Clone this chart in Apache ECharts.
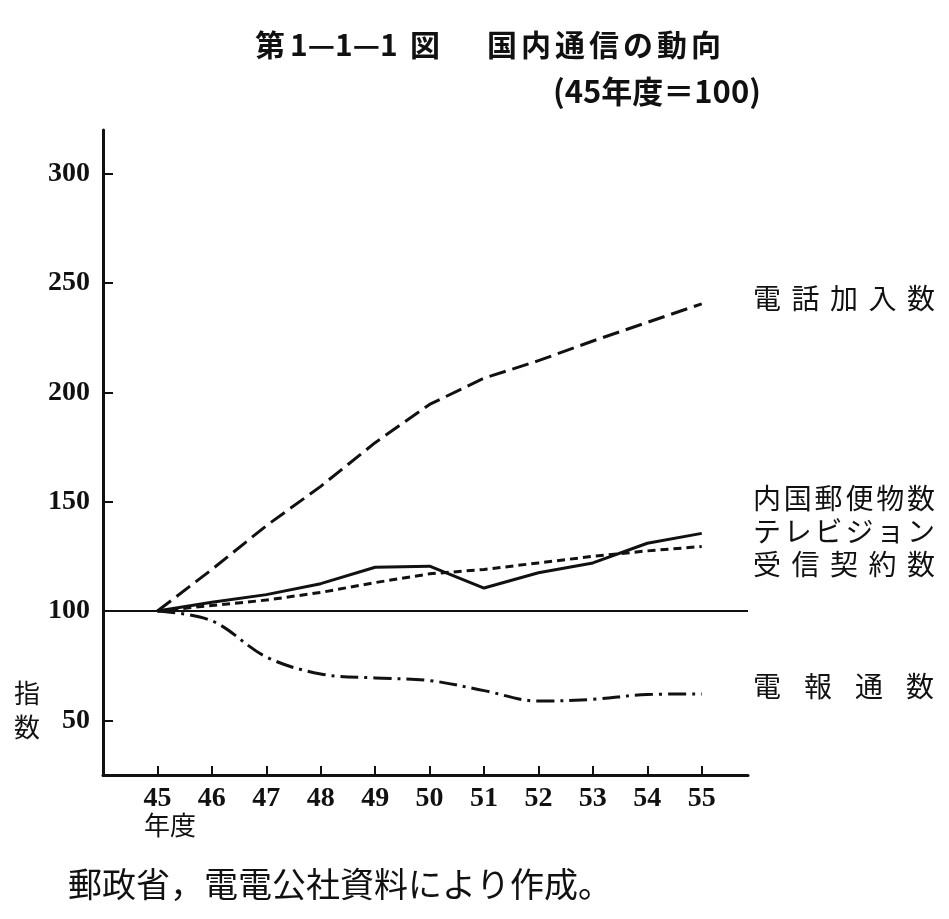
<!DOCTYPE html>
<html>
<head>
<meta charset="utf-8">
<script src="https://cdn.jsdelivr.net/npm/echarts@6/dist/echarts.min.js"></script>
<style>
  html, body { margin: 0; padding: 0; background: #fff; }
  #chart { width: 949px; height: 919px; }
</style>
</head>
<body>
<div id="chart"></div>
<script>
// fiscal years (Showa 45..55)
const years = [45, 46, 47, 48, 49, 50, 51, 52, 53, 54, 55];
const yTicks = [50, 100, 150, 200, 250, 300];

// index values, 45年度 = 100
const phoneSubs = [100, 119, 139, 157, 177, 194.5, 206.5, 214.5, 223.5, 232, 240.5];
const domesticMail = [100, 104, 107.5, 112.5, 120, 120.5, 110.5, 117.5, 122, 131, 135.5];
const tvContracts = [100, 102.5, 105, 108.5, 113, 117, 119, 122, 125, 127.5, 129.5];
const telegrams = [100, 95.5, 79, 71.2, 69.4, 68.2, 63.6, 58.8, 59.6, 61.8, 62.1];

const SERIF = '"Liberation Serif", "DejaVu Serif", serif';
const CJK = '"Noto Sans CJK JP", sans-serif';

const chart = echarts.init(document.getElementById('chart'));

function pairs(vals) {
  return years.map((y, i) => [y, vals[i]]);
}

function txt(text, x, y, font) {
  return { type: 'text', left: x, top: y, style: { text: text, font: font, fill: '#111' } };
}

// spread characters across a fixed pitch, like the typeset labels
function spaced(text, x, y, pitch, font) {
  return [...text].map((ch, i) => txt(ch, x + i * pitch, y, font));
}

function lineSeries(name, vals, dash, smooth) {
  return {
    name: name,
    type: 'line',
    data: pairs(vals),
    showSymbol: false,
    smooth: smooth || false,
    lineStyle: { color: '#111', width: 3, type: dash },
    z: 3
  };
}

const titleFont = 'bold 30px ' + CJK;
const labelFont = '28px ' + CJK;

const graphics = [
  txt('第', 255, 30, titleFont),
  txt('1—1—1', 290, 30, titleFont),
  txt('図', 410, 30, titleFont),
  txt('(45年度＝100)', 553, 76, 'bold 31px ' + CJK),
  { type: 'text', left: 14, top: 676, style: { text: '指\n数', font: '26px ' + CJK, lineHeight: 34, fill: '#111' } },
  txt('年度', 144, 812, '26px ' + CJK),
  txt('郵政省，電電公社資料により作成。', 68, 867, '34px ' + CJK)
]
  .concat(spaced('国内通信の動向', 487, 30, 34, titleFont))
  .concat(spaced('電話加入数', 753, 284, 38.5, labelFont))
  .concat(spaced('内国郵便物数', 753, 484, 30.8, labelFont))
  .concat(spaced('テレビジョン', 753, 517, 30.8, labelFont))
  .concat(spaced('受信契約数', 753, 550, 38.5, labelFont))
  .concat(spaced('電報通数', 753, 672, 51, labelFont));

chart.setOption({
  backgroundColor: '#fff',
  animation: false,
  grid: { left: 103, right: 201, top: 130, bottom: 144 },
  xAxis: {
    type: 'value',
    min: 44,
    max: 55.85,
    splitLine: { show: false },
    axisLine: { lineStyle: { color: '#111', width: 3 } },
    axisTick: { inside: true, length: 9, customValues: years, lineStyle: { color: '#111', width: 2 } },
    axisLabel: { customValues: years, color: '#111', fontFamily: SERIF, fontWeight: 'bold', fontSize: 28, margin: 10 }
  },
  yAxis: {
    type: 'value',
    min: 25,
    max: 320,
    splitLine: { show: false },
    axisLine: { show: true, lineStyle: { color: '#111', width: 3 } },
    axisTick: { show: true, inside: true, length: 10, customValues: yTicks, lineStyle: { color: '#111', width: 2 } },
    axisLabel: { customValues: yTicks, color: '#111', fontFamily: SERIF, fontWeight: 'bold', fontSize: 28, margin: 13 }
  },
  series: [
    Object.assign(lineSeries('電話加入数', phoneSubs, [17, 7]), {
      markLine: {
        silent: true,
        symbol: 'none',
        label: { show: false },
        lineStyle: { color: '#111', width: 2, type: 'solid' },
        data: [{ yAxis: 100 }]
      }
    }),
    lineSeries('内国郵便物数', domesticMail, 'solid'),
    lineSeries('テレビジョン受信契約数', tvContracts, [8, 5]),
    lineSeries('電報通数', telegrams, [18, 6, 3, 6], 0.35)
  ],
  graphic: graphics
});
</script>
</body>
</html>
